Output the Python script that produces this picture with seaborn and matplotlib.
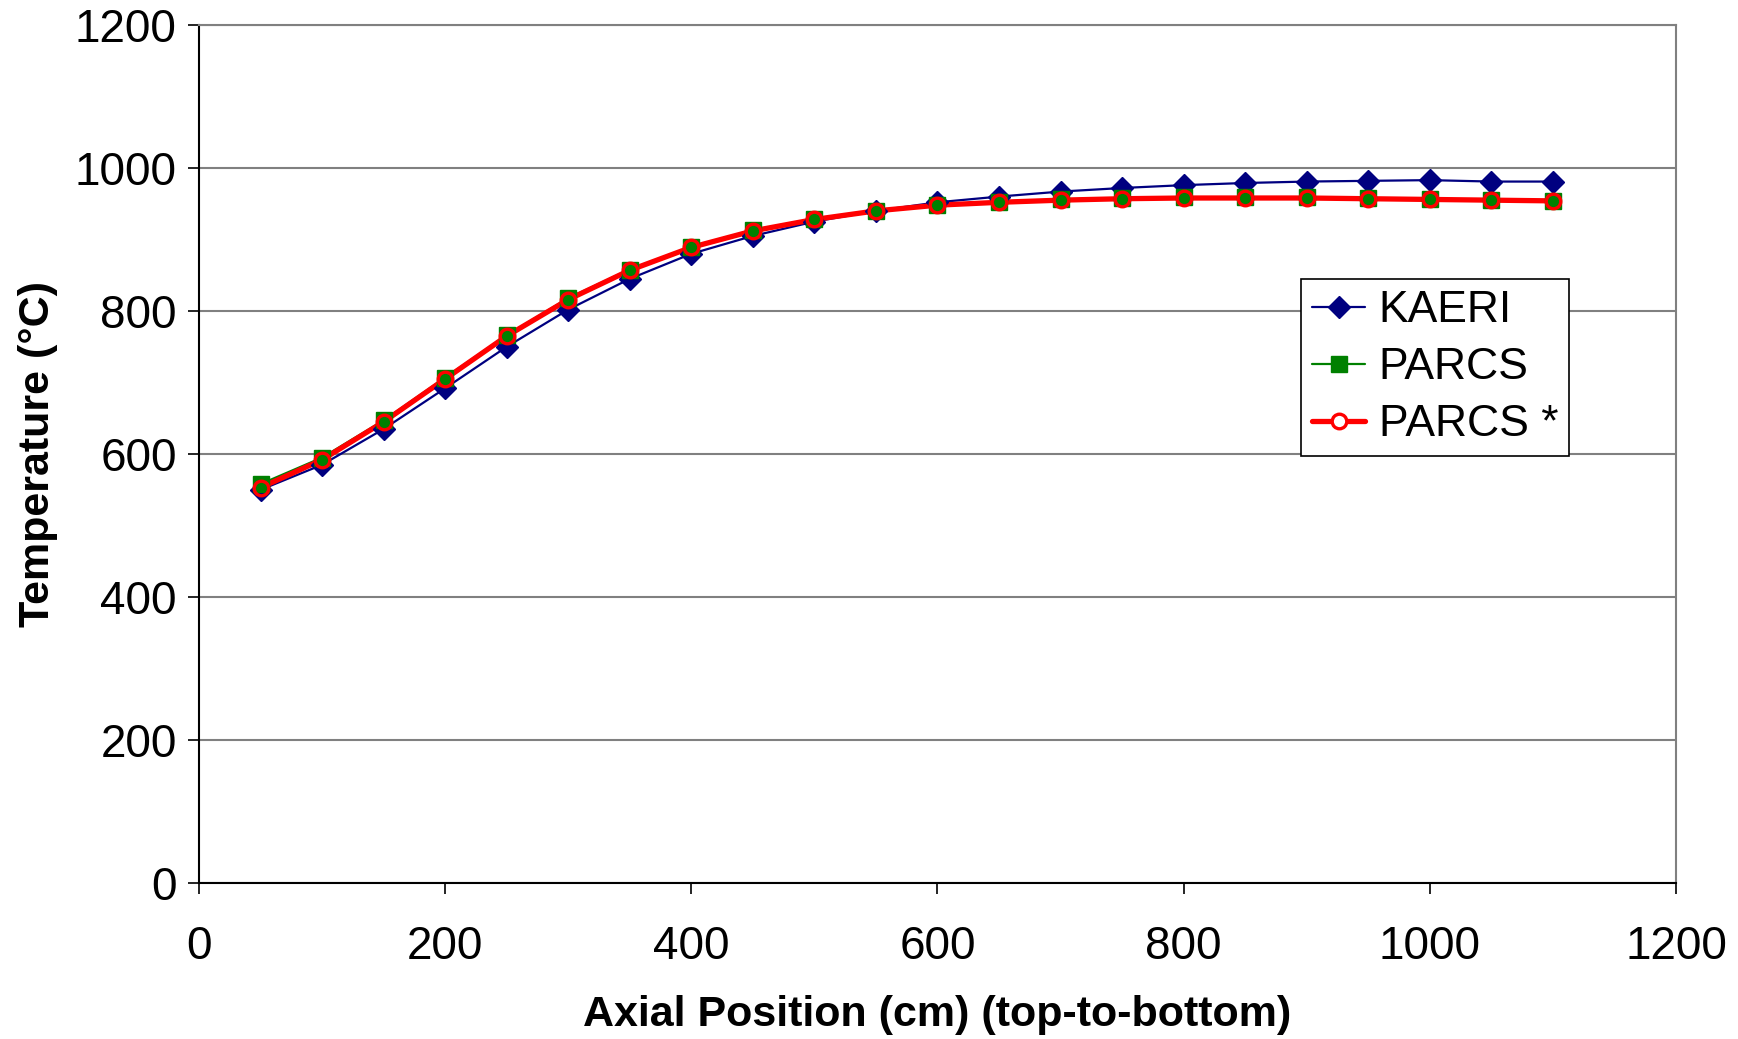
import matplotlib
matplotlib.use("Agg")
import matplotlib.pyplot as plt
from matplotlib.lines import Line2D
import seaborn as sns
import pandas as pd

positions = [50, 100, 150, 200, 250, 300, 350, 400, 450, 500, 550,
             600, 650, 700, 750, 800, 850, 900, 950, 1000, 1050, 1100]
kaeri = [550, 585, 635, 692, 750, 802, 845, 880, 905, 925, 940,
         952, 960, 967, 972, 976, 979, 981, 982, 983, 981, 981]
parcs = [558, 595, 647, 707, 766, 818, 858, 890, 913, 929, 940,
         948, 953, 956, 958, 959, 959, 959, 958, 957, 955, 954]
parcs_star = [553, 592, 645, 705, 765, 816, 857, 889, 912, 928, 940,
              948, 952, 955, 957, 958, 958, 958, 957, 956, 955, 954]
x_ticks = [0, 200, 400, 600, 800, 1000, 1200]
y_ticks = [0, 200, 400, 600, 800, 1000, 1200]

sns.set_theme(style="white")
plt.rcParams['font.family'] = ['Liberation Sans', 'DejaVu Sans']
plt.rcParams['text.color'] = 'black'
plt.rcParams['axes.labelcolor'] = 'black'
plt.rcParams['xtick.color'] = 'black'
plt.rcParams['ytick.color'] = 'black'

fig = plt.figure(figsize=(17.38, 10.39), dpi=100)
ax = fig.add_axes([0.1145, 0.150, 0.8498, 0.826])

df = pd.DataFrame({"pos": positions, "KAERI": kaeri, "PARCS": parcs, "PARCS *": parcs_star})

styles = {
    "KAERI": dict(color="#000080", lw=1.6, marker="D", ms=11.5, mec="#000080", mfc="#000080", mew=1),
    "PARCS": dict(color="#008000", lw=1.6, marker="s", ms=12, mec="#008000", mfc="#008000", mew=1),
    "PARCS *": dict(color="#FF0000", lw=3.8, marker="o", ms=10.5, mec="#FF0000", mfc="none", mew=2.4),
}

# lines first (as in the original), then markers on top
for i, name in enumerate(["KAERI", "PARCS", "PARCS *"]):
    st = styles[name]
    sns.lineplot(data=df, x="pos", y=name, ax=ax, color=st["color"], lw=st["lw"],
                 zorder=3 + i * 0.1, legend=False)
for i, name in enumerate(["KAERI", "PARCS", "PARCS *"]):
    st = styles[name]
    sns.lineplot(data=df, x="pos", y=name, ax=ax, linestyle="none", marker=st["marker"],
                 markersize=st["ms"], markeredgecolor=st["mec"], markerfacecolor=st["mfc"],
                 markeredgewidth=st["mew"], zorder=4 + i * 0.1, legend=False)

ax.set_xlim(0, 1200)
ax.set_ylim(0, 1200)
ax.set_xticks(x_ticks)
ax.set_yticks(y_ticks)
ax.tick_params(axis='both', labelsize=33, direction='out', length=8, width=1.2,
               color='black', labelcolor='black', left=True, bottom=True)
ax.tick_params(axis='x', pad=22)
ax.tick_params(axis='y', pad=8)
ax.yaxis.grid(True, color="#808080", lw=1.5)
ax.xaxis.grid(False)
ax.set_axisbelow(True)
for s in ['left', 'bottom']:
    ax.spines[s].set_color('black')
    ax.spines[s].set_linewidth(1.5)
for s in ['top', 'right']:
    ax.spines[s].set_color('#808080')
    ax.spines[s].set_linewidth(1.5)

ax.set_xlabel("Axial Position (cm) (top-to-bottom)", fontsize=31, fontweight='bold',
              labelpad=19, color='black')
ax.set_ylabel("Temperature (°C)", fontsize=31, fontweight='bold', labelpad=12, color='black')

handles = []
for name in ["KAERI", "PARCS", "PARCS *"]:
    st = styles[name]
    handles.append(Line2D([], [], color=st["color"], lw=st["lw"], marker=st["marker"],
                          markersize=st["ms"], markeredgecolor=st["mec"],
                          markerfacecolor=("white" if st["mfc"] == "none" else st["mfc"]),
                          markeredgewidth=st["mew"], label=name))

leg = ax.legend(handles=handles, loc='upper left', bbox_to_anchor=(0.746, 0.704), fontsize=32,
                frameon=True, fancybox=False, edgecolor='black', framealpha=1,
                handlelength=1.2, handletextpad=0.3, borderpad=0.25, labelspacing=0.36,
                borderaxespad=0)
leg.get_frame().set_linewidth(1.2)
leg.set_zorder(10)
for t in leg.get_texts():
    t.set_color('black')

fig.savefig("out.png", dpi=100)
